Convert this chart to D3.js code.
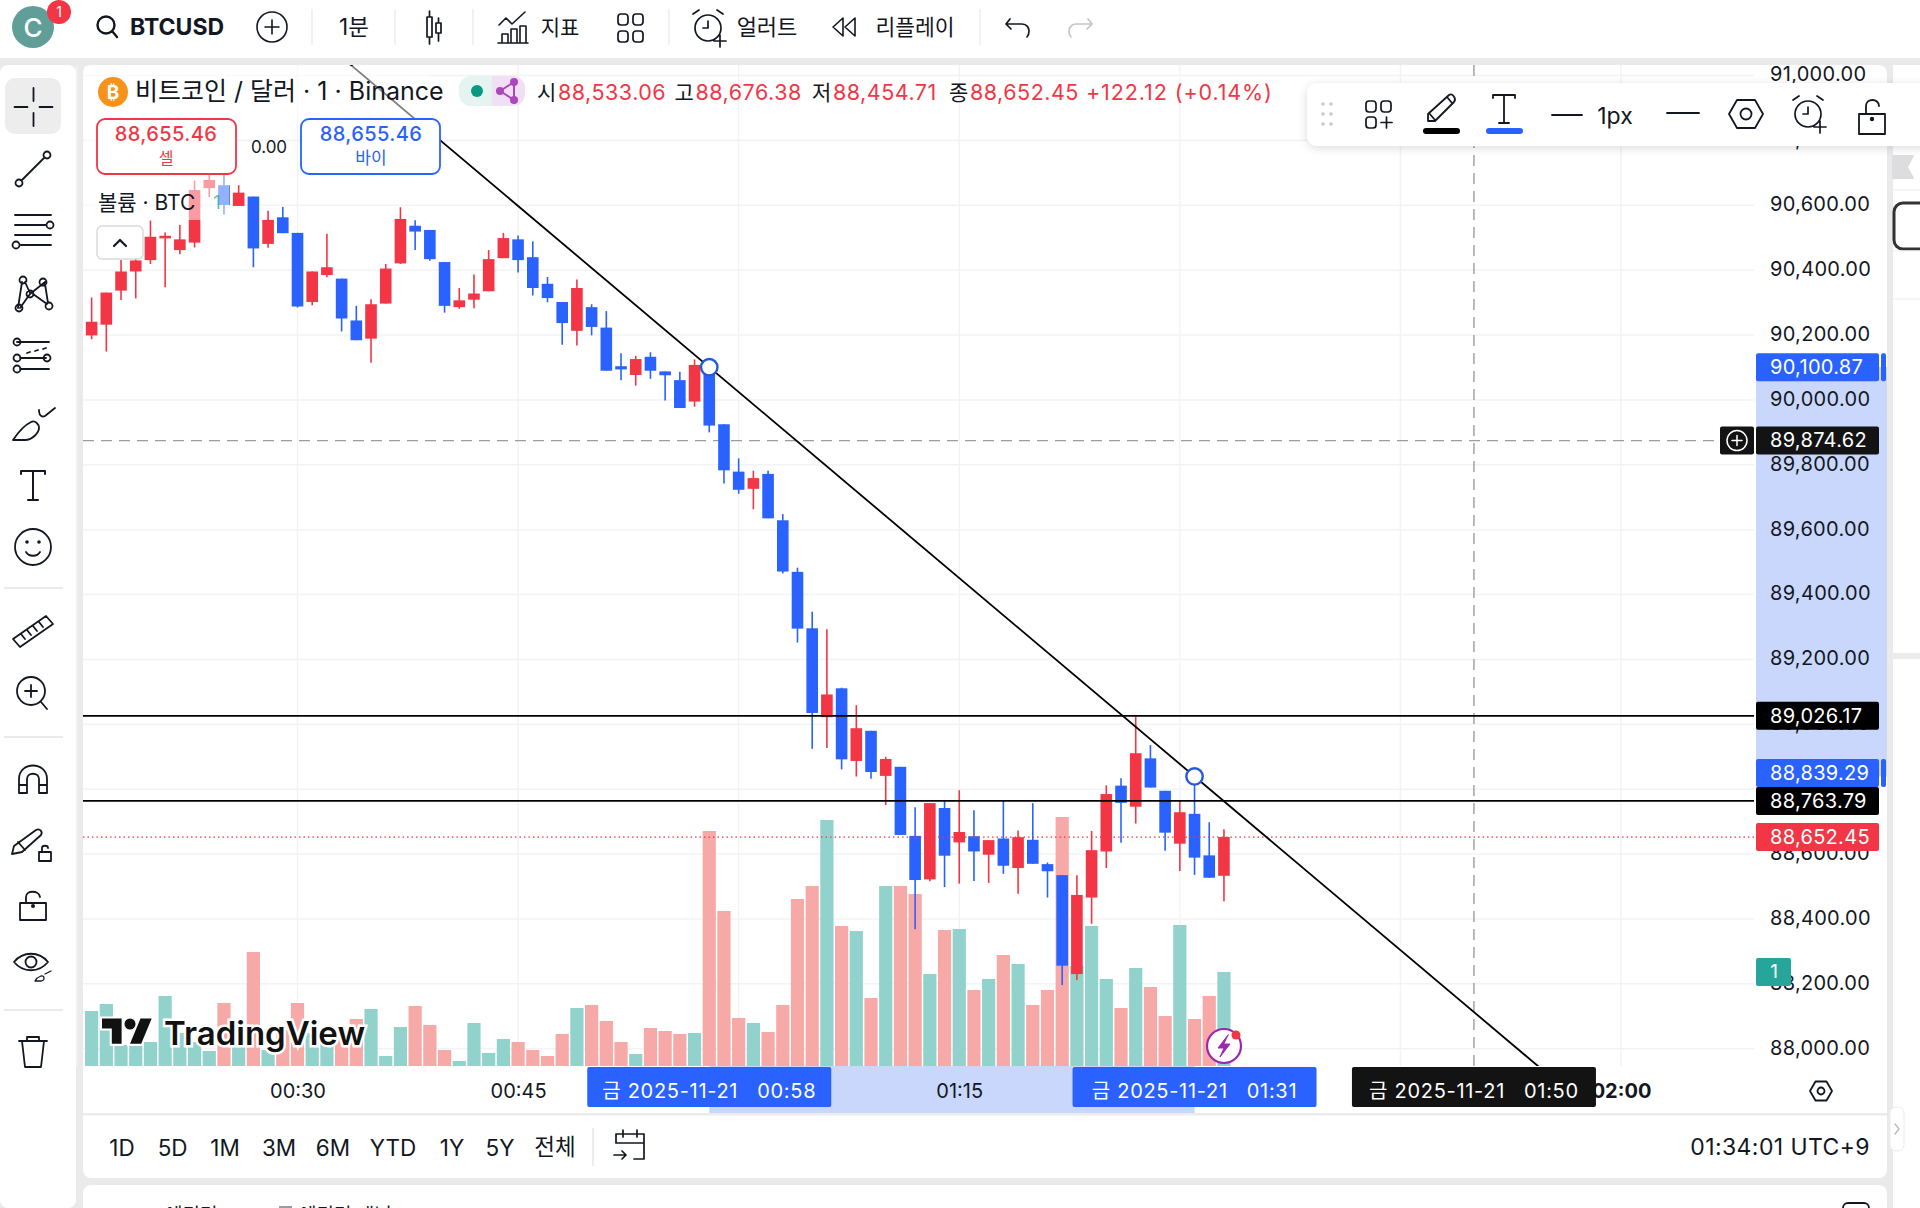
<!DOCTYPE html>
<html>
<head>
<meta charset="utf-8">
<style>
  html, body { margin: 0; padding: 0; background: #fff; }
  svg { display: block; }
  text { font-family: Inter, "Noto Sans CJK KR", sans-serif; fill: #131722; }
</style>
</head>
<body>
<div id="vis"></div>
<script src="https://d3js.org/d3.v7.min.js"></script>
<script>
// page frame
const FRAME_WIDTH = 1920;
const FRAME_HEIGHT = 1208;
const PANE = {left: 83, right: 1754, top: 65, bottom: 1066};

// colours
const RED = "#f23645";
const BLUE = "#2962ff";
const INK = "#131722";
const GRID = "#f2f3f5";
const PANEL_GAP = "#eaeaeb";

// minute of the day for every bar, 00:16 to 01:33
const barMinutes = d3.range(16, 94);

const opens = [90199,90232,90337,90396,90431,90498,90462,90485,90653,90662,90598,90627,90481,90563,90515,90302,90385,90374,90245,90189,90297,90421,90537,90524,90425,90286,90309,90335,90437,90495,90440,90358,90302,90213,90286,90223,90104,90077,90133,90088,90061,89995,90100,89925,89779,89726,89772,89629,89470,89296,89022,89111,88887,88980,88841,88869,88656,88522,88742,88636,88655,88598,88648,88557,88644,88569,88535,88230,88466,88608,88811,88746,88895,88795,88632,88724,88596,88533.06];
const highs = [90316,90331,90431,90450,90553,90516,90539,90676,90693,90699,90662,90627,90583,90595,90515,90396,90512,90374,90290,90310,90419,90594,90554,90524,90425,90345,90387,90462,90515,90507,90489,90379,90302,90371,90295,90274,90144,90136,90147,90088,90087,90125,90120,89925,89820,89782,89782,89648,89483,89347,89293,89113,89059,88980,88900,88869,88744,88757,88765,88797,88735,88643,88765,88673,88757,88574,88535,88535,88671,88812,88834,89024,88936,88795,88765,88839,88698,88676.38];
const lows = [90187,90149,90308,90313,90419,90347,90449,90470,90625,90572,90598,90409,90469,90514,90285,90292,90378,90211,90184,90115,90297,90419,90462,90429,90269,90281,90283,90335,90437,90393,90322,90301,90170,90168,90199,90090,90061,90044,90065,89998,89975,89979,89900,89742,89711,89663,89635,89465,89252,88925,88927,88861,88839,88832,88751,88659,88368,88516,88498,88509,88517,88511,88539,88478,88570,88466,88196,88212,88385,88557,88635,88694,88805,88610,88548,88536,88527,88454.71];
const closes = [90241,90331,90396,90430,90503,90506,90495,90647,90678,90601,90639,90467,90555,90514,90288,90396,90409,90251,90184,90295,90405,90558,90519,90434,90290,90307,90328,90434,90499,90431,90345,90314,90237,90345,90225,90090,90094,90126,90090,90076,89975,90108,89921,89783,89723,89759,89635,89471,89295,89035,89092,88892,88988,88853,88893,88659,88520,88757,88595,88668,88608,88643,88564,88652,88570,88547,88256,88474,88612,88785,88758,88911,88805,88666,88729,88589,88527,88652.45];

// volume in BTC and the colour of each volume bar (1 = pink, 0 = teal)
const volumes = [11,12.4,4.2,4.2,4.8,14,6.6,4.8,3,12.6,7.2,22.8,3.2,7.2,12.6,6.6,5.2,7.2,9.4,11.4,2,7.8,12,8.2,3.2,1,8.6,2.6,5.4,4.8,3.2,2,6.4,11.6,12.2,9,4.8,2.4,7.6,7,6.4,6.6,47,31,9.6,8.6,6.8,12.2,33.4,36,49.2,28,27,13.6,36,36,34.4,18.4,27.2,27.4,15.2,17.4,22.2,20.4,12.2,15.2,49.8,20,28,17.4,11.6,19.6,15.8,10,28.2,9.4,14,18.8];
const volumePink = [0,0,0,0,0,0,0,0,0,1,0,1,0,1,1,0,0,1,1,0,0,0,1,1,1,0,0,0,0,1,1,1,1,0,1,1,1,0,1,1,1,0,1,1,1,0,1,1,1,1,0,1,0,1,0,1,1,0,1,0,1,0,1,0,1,1,1,0,0,0,1,0,1,1,0,1,1,0];

// axis ticks (01:00, 01:30 and 01:45 sit behind the time tags, so only their grid lines show)
const priceTicks = d3.range(88000, 91001, 200);
const timeTicks = [30, 45, 75, 120];
const gridTimes = [15, 30, 45, 60, 75, 90, 105, 120];

// drawings on the chart
const trendMinutes = [58, 91];
const trendPrices = [90100.87, 88839.29];
const levelPrices = [89026.17, 88763.79];
const lastPrice = 88652.45;
const crossPrice = 89874.62;
const crossMinute = 110;

// header texts
const ohlcLabels = ["시", "고", "저", "종"];
const ohlcValues = ["88,533.06", "88,676.38", "88,454.71", "88,652.45"];
const rangeButtons = ["1D", "5D", "1M", "3M", "6M", "YTD", "1Y", "5Y", "전체"];

const svg = d3.select("#vis").append("svg")
  .attr("width", FRAME_WIDTH)
  .attr("height", FRAME_HEIGHT)
  .attr("viewBox", `0 0 ${FRAME_WIDTH} ${FRAME_HEIGHT}`);

// scales, calibrated against the grid lines of the picture
const xScale = d3.scaleLinear().domain([30, 120]).range([297.5, 1621]);
const yScale = d3.scaleLinear().domain([88000, 90600]).range([1048.7, 205.3]);
const volScale = d3.scaleLinear().domain([0, 50]).range([PANE.bottom, PANE.bottom - 250]);
const priceFormat = d3.format(",.2f");
const timeFormat = m => `${String(Math.floor(m / 60)).padStart(2, "0")}:${String(m % 60).padStart(2, "0")}`;

const bars = barMinutes.map((m, i) => ({
  minute: m, open: opens[i], high: highs[i], low: lows[i], close: closes[i],
  volume: volumes[i], pink: volumePink[i]
}));

function rect(parent, x, y, w, h, fill, rx) {
  return parent.append("rect").attr("x", x).attr("y", y).attr("width", w).attr("height", h)
    .attr("fill", fill).attr("rx", rx || 0);
}
function label(parent, x, y, str, size, anchor, fill, weight) {
  return parent.append("text").attr("x", x).attr("y", y).attr("dy", "0.36em")
    .attr("text-anchor", anchor || "middle")
    .style("font-size", size + "px")
    .style("fill", fill || INK)
    .style("font-weight", weight || 400)
    .text(str);
}
// icon from path data, drawn around its own centre
function icon(parent, x, y, d, opts) {
  const o = opts || {};
  return parent.append("path").attr("transform", `translate(${x},${y})`).attr("d", d)
    .attr("fill", o.fill || "none")
    .attr("stroke", o.stroke || INK)
    .attr("stroke-width", o.width || 1.8)
    .attr("stroke-linecap", "round")
    .attr("stroke-linejoin", "round");
}
function ring(r, cx, cy) {
  return `M${cx - r},${cy}a${r},${r} 0 1,0 ${2 * r},0a${r},${r} 0 1,0 ${-2 * r},0`;
}
function roundBox(x, y, w, h, r) {
  return `M${x + r},${y}h${w - 2 * r}a${r},${r} 0 0 1 ${r},${r}v${h - 2 * r}a${r},${r} 0 0 1 ${-r},${r}h${-(w - 2 * r)}a${r},${r} 0 0 1 ${-r},${-r}v${-(h - 2 * r)}a${r},${r} 0 0 1 ${r},${-r}z`;
}

// ---- page panels ----
rect(svg, 0, 0, FRAME_WIDTH, FRAME_HEIGHT, PANEL_GAP);
rect(svg, 0, 0, FRAME_WIDTH, 58, "#fff");
rect(svg, 0, 65, 76, FRAME_HEIGHT - 65, "#fff", 8);
rect(svg, 83, 65, 1804, 1113, "#fff", 8);
rect(svg, 83, 1185, 1804, 40, "#fff", 8);
rect(svg, 1893, 65, 27, FRAME_HEIGHT - 65, "#fff");

// ---- chart grid ----
const grid = svg.append("g");
grid.selectAll("line.h").data(priceTicks).enter().append("line")
  .attr("x1", PANE.left).attr("x2", PANE.right)
  .attr("y1", d => yScale(d)).attr("y2", d => yScale(d))
  .attr("stroke", GRID).attr("stroke-width", 1.6);
grid.selectAll("line.v").data(gridTimes).enter().append("line")
  .attr("x1", d => xScale(d)).attr("x2", d => xScale(d))
  .attr("y1", PANE.top).attr("y2", PANE.bottom)
  .attr("stroke", GRID).attr("stroke-width", 1.4);

// ---- volume ----
svg.append("g").selectAll("rect").data(bars).enter().append("rect")
  .attr("x", d => xScale(d.minute) - 6.6)
  .attr("width", 13.2)
  .attr("y", d => volScale(d.volume))
  .attr("height", d => volScale(0) - volScale(d.volume))
  .attr("fill", d => d.pink ? "#f7a9a7" : "#92d2cc");

// ---- crosshair ----
svg.append("line")
  .attr("x1", PANE.left).attr("x2", 1720)
  .attr("y1", yScale(crossPrice)).attr("y2", yScale(crossPrice))
  .attr("stroke", "#9b9da3").attr("stroke-width", 1.4).attr("stroke-dasharray", "11 7");
svg.append("line")
  .attr("x1", xScale(crossMinute)).attr("x2", xScale(crossMinute))
  .attr("y1", PANE.top).attr("y2", PANE.bottom)
  .attr("stroke", "#9b9da3").attr("stroke-width", 1.4).attr("stroke-dasharray", "11 7");

// ---- candles ----
const candles = svg.append("g");
candles.selectAll("line").data(bars).enter().append("line")
  .attr("x1", d => xScale(d.minute)).attr("x2", d => xScale(d.minute))
  .attr("y1", d => yScale(d.high)).attr("y2", d => yScale(d.low))
  .attr("stroke", d => d.close >= d.open ? RED : BLUE)
  .attr("stroke-width", 1.6);
candles.selectAll("rect").data(bars).enter().append("rect")
  .attr("x", d => xScale(d.minute) - 5.8)
  .attr("width", 11.6)
  .attr("y", d => yScale(Math.max(d.open, d.close)))
  .attr("height", d => Math.max(1.5, Math.abs(yScale(d.open) - yScale(d.close))))
  .attr("fill", d => d.close >= d.open ? RED : BLUE);

// ---- level lines, last price, trend line ----
svg.append("g").selectAll("line").data(levelPrices).enter().append("line")
  .attr("x1", PANE.left).attr("x2", PANE.right)
  .attr("y1", d => yScale(d)).attr("y2", d => yScale(d))
  .attr("stroke", "#000").attr("stroke-width", 1.8);
svg.append("line")
  .attr("x1", PANE.left).attr("x2", PANE.right)
  .attr("y1", yScale(lastPrice)).attr("y2", yScale(lastPrice))
  .attr("stroke", RED).attr("stroke-width", 1.3).attr("stroke-dasharray", "1.5 3");

svg.append("clipPath").attr("id", "pane-clip").append("rect")
  .attr("x", PANE.left).attr("y", PANE.top)
  .attr("width", PANE.right - PANE.left).attr("height", PANE.bottom - PANE.top);

const trendAt = m => trendPrices[0] + (trendPrices[1] - trendPrices[0]) * (m - trendMinutes[0]) / (trendMinutes[1] - trendMinutes[0]);
svg.append("line").attr("clip-path", "url(#pane-clip)")
  .attr("x1", xScale(20)).attr("y1", yScale(trendAt(20)))
  .attr("x2", xScale(115)).attr("y2", yScale(trendAt(115)))
  .attr("stroke", "#000").attr("stroke-width", 1.8);
svg.selectAll("circle.anchor").data(trendMinutes).enter().append("circle")
  .attr("cx", d => xScale(d)).attr("cy", (d, i) => yScale(trendPrices[i]))
  .attr("r", 8.2).attr("fill", "#fff").attr("stroke", "#2658dd").attr("stroke-width", 2.4);

// ---- price axis ----
rect(svg, 1756, yScale(trendPrices[0]), 131, yScale(trendPrices[1]) - yScale(trendPrices[0]), "#c9d7fd");
const yAxis = d3.axisRight(yScale).tickValues(priceTicks).tickSize(0).tickPadding(0).tickFormat(priceFormat);
const yAxisG = svg.append("g").attr("transform", "translate(1770,-1)").call(yAxis);
yAxisG.select(".domain").remove();
yAxisG.selectAll("text").style("font-size", "20px").style("letter-spacing", "0.3px").style("fill", INK).attr("dy", "0.32em");

// ---- time axis ----
rect(svg, xScale(trendMinutes[0]), PANE.bottom, xScale(trendMinutes[1]) - xScale(trendMinutes[0]), 47, "#c9d7fd");
const xAxis = d3.axisBottom(xScale).tickValues(timeTicks).tickSize(0).tickPadding(18).tickFormat(timeFormat);
const xAxisG = svg.append("g").attr("transform", `translate(0,${PANE.bottom})`).call(xAxis);
xAxisG.select(".domain").remove();
xAxisG.selectAll("text").style("font-size", "20px").style("fill", INK)
  .style("font-weight", d => d === 120 ? 700 : 400);
rect(svg, 83, 1113, 1804, 2.5, "#ececee");

// ---- price tags ----
function priceTag(price, fill, shift) {
  const y = yScale(price) + (shift || 0);
  rect(svg, 1756, y - 14, 123, 28, fill, 2);
  label(svg, 1770, y - 0.5, priceFormat(price), 20, "start", "#fff").style("letter-spacing", "0.3px");
  return y;
}
const topTagY = priceTag(trendPrices[0], BLUE);
rect(svg, 1881, topTagY - 14, 5, 28, BLUE, 2);
priceTag(crossPrice, "#131313");
priceTag(levelPrices[0], "#000");
// this tag sits a little higher so it does not run into the black one below it
const lowTagY = priceTag(trendPrices[1], BLUE, -3.5);
rect(svg, 1881, lowTagY - 14, 5, 28, BLUE, 2);
priceTag(levelPrices[1], "#000");
priceTag(lastPrice, RED);

// plus button next to the crosshair price
rect(svg, 1720, yScale(crossPrice) - 14, 34, 28, "#131313", 2);
icon(svg, 1737, yScale(crossPrice), ring(10, 0, 0) + "M-5,0H5M0,-5V5", {stroke: "#fff", width: 1.5});

// countdown tag
rect(svg, 1756, 958, 35, 28, "#26a69a", 2);
label(svg, 1774, 971, "1", 19, "middle", "#fff");

// ---- time tags ----
function timeTag(minute, fill) {
  const x = xScale(minute);
  rect(svg, x - 122, 1067, 244, 40, fill, 2);
  label(svg, x, 1091, `금 2025-11-21   ${timeFormat(minute)}`, 20, "middle", "#fff")
    .style("white-space", "pre").style("letter-spacing", "0.7px");
}
timeTag(trendMinutes[0], BLUE);
timeTag(trendMinutes[1], BLUE);
timeTag(crossMinute, "#131313");

// axis settings hexagon
const hexagon = "M-11,0L-5.5,-9.5H5.5L11,0L5.5,9.5H-5.5Z";
icon(svg, 1821, 1091, hexagon + ring(3.5, 0, 0));

// ---- watermark ----
const logo = svg.append("g");
logo.append("path").attr("transform", "translate(102,1013) scale(1.4)")
  .attr("d", "M14 22H7V11H0V4h14v18zM28 22h-8l7.5-18h8L28 22z")
  .attr("fill", "#111").attr("stroke", "#fff").attr("stroke-width", 3).style("paint-order", "stroke");
logo.append("circle").attr("cx", 130).attr("cy", 1024).attr("r", 5.5).attr("fill", "#111");
logo.append("text").attr("x", 164).attr("y", 1045)
  .style("font-size", "33px").style("font-weight", 600).style("fill", "#111")
  .style("stroke", "#fff").style("stroke-width", "5px").style("paint-order", "stroke")
  .text("TradingView");

// lightning badge
svg.append("circle").attr("cx", 1224).attr("cy", 1046).attr("r", 17)
  .attr("fill", "#fff").attr("stroke", "#9c27b0").attr("stroke-width", 2.2);
icon(svg, 1224, 1046, "M4,-11L-6,2H0L-4,11L6,-2H0Z", {fill: "#9c27b0", stroke: "#9c27b0", width: 1});
svg.append("circle").attr("cx", 1236).attr("cy", 1035).attr("r", 4.5).attr("fill", RED);

// ---- legend over the chart ----
rect(svg, 84, 66, 145, 154, "#fff").attr("opacity", 0.5);
rect(svg, 229, 66, 200, 52, "#fff").attr("opacity", 0.5);

svg.append("circle").attr("cx", 113).attr("cy", 92).attr("r", 15).attr("fill", "#f7931a");
label(svg, 113, 92, "₿", 19, "middle", "#fff", 700);
label(svg, 135, 91, "비트코인 / 달러 · 1 · Binance", 25, "start");

// status pill
rect(svg, 459, 76, 33, 30, "#e5f4f0", 12);
rect(svg, 492, 76, 33, 30, "#f1dff5", 12);
rect(svg, 482, 76, 10, 30, "#e5f4f0");
rect(svg, 492, 76, 10, 30, "#f1dff5");
svg.append("circle").attr("cx", 477).attr("cy", 91).attr("r", 6).attr("fill", "#089981");
icon(svg, 506, 91, "M8,-9L-6,0L8,9Z", {stroke: "#ab47bc", width: 2});
svg.append("g").selectAll("circle").data([[14, 82], [0, 91], [14, 100]]).enter().append("circle")
  .attr("cx", d => 500 + d[0]).attr("cy", d => d[1]).attr("r", 4).attr("fill", "#ab47bc");

// OHLC line
const ohlcX = [537, 674.5, 812, 949];
ohlcLabels.forEach((l, i) => {
  label(svg, ohlcX[i], 92, l, 21, "start");
  label(svg, ohlcX[i] + 21, 92, ohlcValues[i], 21.5, "start", RED).style("letter-spacing", "0.5px");
});
label(svg, 1086, 92, "+122.12 (+0.14%)", 21.5, "start", RED).style("letter-spacing", "0.9px");

// sell and buy boxes
rect(svg, 97, 119, 139, 55, "#fff", 8).attr("stroke", RED).attr("stroke-width", 1.8);
label(svg, 166, 134, "88,655.46", 20, "middle", RED, 500).style("letter-spacing", "0.4px");
label(svg, 166, 158, "셀", 16, "middle", RED);
label(svg, 269, 147, "0.00", 17, "middle", INK);
rect(svg, 301, 119, 139, 55, "#fff", 8).attr("stroke", BLUE).attr("stroke-width", 1.8);
label(svg, 371, 134, "88,655.46", 20, "middle", BLUE, 500).style("letter-spacing", "0.4px");
label(svg, 371, 158, "바이", 17, "middle", BLUE);

label(svg, 98, 202, "볼륨 · BTC", 21, "start");
label(svg, 217, 202, "1", 19, "middle", "#26a69a").attr("opacity", 0.7);
rect(svg, 97, 226, 46, 33, "#fff", 5).attr("stroke", "#d9d9dc").attr("stroke-width", 1.4);
icon(svg, 120, 243, "M-6,3L0,-3L6,3", {width: 2.2});

// ---- top bar ----
svg.append("circle").attr("cx", 33).attr("cy", 27).attr("r", 21).attr("fill", "#5f9f98");
label(svg, 33, 28, "C", 26, "middle", "#fff", 500);
svg.append("circle").attr("cx", 59).attr("cy", 12).attr("r", 12).attr("fill", RED);
label(svg, 59, 12, "1", 14, "middle", "#fff");

icon(svg, 107, 26, ring(8.5, -1, -1) + "M5,5L10,11", {width: 2.4});
label(svg, 130, 27, "BTCUSD", 23, "start", INK, 700);
icon(svg, 272, 27, ring(15, 0, 0) + "M-7,0H7M0,-7V7", {width: 1.6});
svg.append("g").selectAll("line").data([312, 395, 473, 669, 980]).enter().append("line")
  .attr("x1", d => d).attr("x2", d => d).attr("y1", 9).attr("y2", 45)
  .attr("stroke", "#ececee").attr("stroke-width", 1.4);
label(svg, 354, 27, "1분", 22.5);
icon(svg, 433, 27, "M-6,-10H-1V10H-6ZM-3.5,-16V-10M-3.5,10V17M3,-4H8V6H3ZM5.5,-9V-4M5.5,6V14", {width: 1.7});
icon(svg, 513, 27, "M-15,16H15M-11,16V7H-5V16M-2,16V2H4V16M7,16V-1H13V16M-14,-2L-7,-9L-1,-3L12,-15", {width: 1.6});
label(svg, 560, 27, "지표", 21);
const fourBoxes = roundBox(-12, -14, 10, 11, 3) + roundBox(3, -14, 10, 11, 3) + roundBox(-12, 3, 10, 11, 3) + roundBox(3, 3, 10, 11, 3);
icon(svg, 630, 28, fourBoxes, {width: 1.7});
const alarm = ring(13, 0, 0) + "M0,-7V0H-5M-15,-14L-9,-18M15,-14L9,-18M6,13H18M12,7V19";
icon(svg, 708, 28, alarm, {width: 1.7});
label(svg, 767, 27, "얼러트", 22);
icon(svg, 845, 27, "M-2,-9L-12,0L-2,9ZM10,-9L0,0L10,9Z", {width: 1.6});
label(svg, 915, 27, "리플레이", 21.5);
icon(svg, 1018, 27, "M-8,-8L-12,-3L-7,2M-12,-3H4C9,-3 11,1 11,4C11,6 10,9 9,10", {width: 1.7});
icon(svg, 1080, 27, "M8,-8L12,-3L7,2M12,-3H-4C-9,-3 -11,1 -11,4C-11,6 -10,9 -9,10", {width: 1.7, stroke: "#c4c5c9"});

// ---- left toolbar ----
const tools = svg.append("g");
rect(tools, 5, 78, 56, 56, "#ededee", 10);
icon(tools, 33.5, 107, "M-19,0H-6M6,0H19M0,-19V-6M0,6V19");
icon(tools, 33, 169, "M-11,11L11,-11" + ring(3.5, -14, 14) + ring(3.5, 14, -14));
icon(tools, 33, 231, "M-18,-16H18M-18,-6H13M-18,4H18M-12,14H18" + ring(3.5, 17, -6) + ring(3.5, -17, 14));
icon(tools, 33, 294, "M-11,-12L-15,14M-8,-12L-3,-1M-13,14L-3,0M-3,0L12,-12M0,0L14,10M12,-10L15,9" + ring(3.5, -10, -14) + ring(3.5, 10, -12) + ring(3.5, -3, 0) + ring(3.5, -14, 14) + ring(3.5, 16, 12));
icon(tools, 33, 358, "M-16,-16H16M-13,0H13M-13,11H16" + ring(3.5, -16, -16) + ring(3.5, -16, 0) + ring(3.5, 14, 0) + ring(3.5, -16, 11) + "M-6,-5L-3,-6M2,-7L5,-8M10,-9L13,-10");
icon(tools, 33, 422, "M-20,18H-8C0,18 6,10 6,6C6,2 2,-2 -2,0C-10,4 -16,12 -20,18ZM6,-12C6,-5 10,-5 12,-6L22,-14");
icon(tools, 33, 485, "M-12,-11V-14H12V-11M0,-14V15M-5,15H5", {width: 2});
icon(tools, 33, 547, ring(18, 0, 0) + "M-7,5C-4,10 4,10 7,5");
svg.append("g").selectAll("circle").data([-6, 6]).enter().append("circle")
  .attr("cx", d => 33 + d).attr("cy", 542).attr("r", 1.8).attr("fill", INK);
svg.append("g").selectAll("line").data([588, 737, 1010]).enter().append("line")
  .attr("x1", 4).attr("x2", 63).attr("y1", d => d).attr("y2", d => d)
  .attr("stroke", "#e4e4e6").attr("stroke-width", 1.4);
icon(tools, 33, 631, "M-20,8L13,-15L20,-7L-13,16ZM-12,3L-8,8M-6,-1L-2,4M0,-5L4,0M6,-9L10,-4");
icon(tools, 31, 693, ring(14, 0, -2) + "M-6,-2H6M0,-8V4M10,9L16,16");
icon(tools, 33, 779, "M-14,14V0C-14,-18 14,-18 14,0V14H6V0C6,-7 -6,-7 -6,0V14ZM-14,6H-6M6,6H14");
icon(tools, 28, 842, "M-14,4L8,-12C12,-14 15,-10 13,-7L-6,10L-16,12ZM-10,0L-3,8");
icon(tools, 45, 853, "M-6,-1H6V8H-6ZM-3,-1V-5C-3,-8 3,-8 3,-5");
icon(tools, 33, 906, "M-13,-3H13V14H-13ZM-7,-3V-9C-7,-16 6,-16 7,-9");
svg.append("circle").attr("cx", 33).attr("cy", 906).attr("r", 2).attr("fill", INK);
icon(tools, 31, 962, "M-17,0C-8,-11 8,-11 17,0C8,11 -8,11 -17,0Z" + ring(5.5, 0, 0));
icon(tools, 43, 977, "M-8,4H-2C2,4 2,-2 -2,-1C-5,0 -7,2 -8,4ZM2,-3L8,-6", {width: 1.3});
icon(tools, 33, 1052, "M-14,-11H14M-11,-11L-8,15H8L11,-11M-6,-11V-15H6V-11");

// ---- floating drawing toolbar ----
const shadow = svg.append("defs").append("filter").attr("id", "soft").attr("x", "-5%").attr("y", "-30%").attr("width", "110%").attr("height", "160%");
shadow.append("feDropShadow").attr("dx", 0).attr("dy", 2).attr("stdDeviation", 5).attr("flood-color", "#000").attr("flood-opacity", 0.14);
rect(svg, 1307, 83, 640, 63, "#fff", 10).attr("filter", "url(#soft)");
const floating = svg.append("g");
floating.selectAll("circle").data([[-4, -10], [4, -10], [-4, 0], [4, 0], [-4, 10], [4, 10]]).enter().append("circle")
  .attr("cx", d => 1327 + d[0]).attr("cy", d => 114 + d[1]).attr("r", 1.8).attr("fill", "#c9cacd");
icon(floating, 1378, 114, roundBox(-12, -13, 10, 11, 3) + roundBox(3, -13, 10, 11, 3) + roundBox(-12, 3, 10, 11, 3) + "M3,8.5h11M8.5,3V14", {width: 1.7});
icon(floating, 1441, 110, "M-13,11L-13,4L8,-15C11,-17 16,-12 13,-8L-6,11ZM-12,3L-6,10M6,-13L11,-7");
rect(floating, 1423, 128, 37, 6, "#000", 3);
icon(floating, 1504, 109, "M-11,-11V-14H11V-11M0,-14V14M-5,14H5", {width: 1.8});
rect(floating, 1486, 128, 37, 6, BLUE, 3);
icon(floating, 1567, 115, "M-15,0H15");
label(floating, 1615, 116, "1px", 23);
icon(floating, 1683, 113, "M-16,0H16");
icon(floating, 1746, 114, "M-17,0L-9,-14H9L17,0L9,14H-9Z" + ring(5.5, 0, 0));
icon(floating, 1808, 114, alarm, {width: 1.7});
icon(floating, 1872, 118, "M-13,-4H13V16H-13ZM-6,-4V-12C-6,-20 7,-20 7,-12");
floating.append("circle").attr("cx", 1872).attr("cy", 119).attr("r", 2.2).attr("fill", INK);

// ---- bottom strip ----
const range = svg.append("g");
const rangeX = [122, 172.6, 225, 279, 333, 393, 452, 500, 555];
rangeButtons.forEach((t, i) => label(range, rangeX[i], t === "전체" ? 1147 : 1148, t, 22.5));
range.append("line").attr("x1", 593).attr("x2", 593).attr("y1", 1128).attr("y2", 1166)
  .attr("stroke", "#e4e4e6").attr("stroke-width", 1.4);
icon(range, 630, 1146, "M-14,-3V-12H14V13H4M-14,-3H14M-7,-16V-9M7,-16V-9M-16,9H-4M-8,5L-4,9L-8,13", {width: 1.7});
label(svg, 1870, 1147, "01:34:01 UTC+9", 23, "end").style("letter-spacing", "0.4px");

// cut off text and icon along the bottom edge of the picture
rect(svg, 279, 1206, 13, 4, "#9a9ba0");
label(svg, 165, 1215, "에디터", 19, "start");
label(svg, 299, 1215, "에디터 패널", 19, "start");
rect(svg, 1843, 1203, 26, 20, "#fff", 5).attr("stroke", INK).attr("stroke-width", 1.8);

// ---- right column ----
icon(svg, 1903, 167, "M-10,-11H10L4,0L10,11H-10Z", {fill: "#dddddf", stroke: "#dddddf"});
rect(svg, 1894, 203, 60, 46, "#fff", 9).attr("stroke", "#333").attr("stroke-width", 3);
svg.append("g").selectAll("line").data([190, 251, 299]).enter().append("line")
  .attr("x1", 1893).attr("x2", 1920).attr("y1", d => d).attr("y2", d => d)
  .attr("stroke", "#f0f0f1").attr("stroke-width", 1.3);
rect(svg, 1893, 653, 27, 6, "#ececee");
rect(svg, 1890, 1107, 14, 44, "#fff", 6).attr("stroke", "#ececee").attr("stroke-width", 1);
icon(svg, 1897, 1129, "M-2,-5L2,0L-2,5", {stroke: "#b8b9bd", width: 1.3});
</script>
</body>
</html>
